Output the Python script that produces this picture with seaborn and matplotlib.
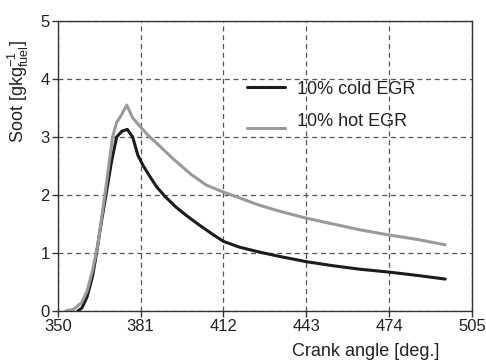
import matplotlib
matplotlib.use("Agg")
import matplotlib.pyplot as plt
import seaborn as sns
import pandas as pd

# Data
cold_angle = [357.5, 359, 361, 363, 364.5, 366, 368, 370, 372, 374, 376, 378, 380, 382, 385, 387,
              390, 394, 398, 403, 408, 412, 418, 425, 433, 443, 453, 463, 474, 485, 495]
cold_soot = [0.0, 0.05, 0.25, 0.6, 1.0, 1.45, 2.0, 2.55, 3.0, 3.1, 3.13, 3.0, 2.68, 2.5, 2.28, 2.14,
             1.98, 1.8, 1.65, 1.48, 1.32, 1.2, 1.1, 1.02, 0.94, 0.85, 0.78, 0.72, 0.67, 0.61, 0.55]
hot_angle = [353, 356, 359, 361, 363, 365, 367.6, 370.5, 372, 373.8, 375.8, 378, 381, 384, 388,
             393, 400, 405.6, 412, 418, 425, 433, 443, 453, 463, 474, 485, 495]
hot_soot = [0.0, 0.03, 0.15, 0.35, 0.7, 1.15, 2.0, 3.0, 3.25, 3.38, 3.55, 3.33, 3.17, 3.02, 2.85,
            2.63, 2.35, 2.17, 2.05, 1.95, 1.83, 1.72, 1.6, 1.5, 1.4, 1.31, 1.23, 1.14]
series_names = ["10% cold EGR", "10% hot EGR"]
x_ticks = [350, 381, 412, 443, 474, 505]
y_ticks = [0, 1, 2, 3, 4, 5]

df = pd.concat([
    pd.DataFrame({"angle": cold_angle, "soot": cold_soot, "case": series_names[0]}),
    pd.DataFrame({"angle": hot_angle, "soot": hot_soot, "case": series_names[1]}),
])

sns.set_style("ticks")
plt.rcParams["font.family"] = ["Liberation Sans", "DejaVu Sans"]
plt.rcParams["mathtext.fontset"] = "custom"
plt.rcParams["mathtext.rm"] = "Liberation Sans"
plt.rcParams["mathtext.it"] = "Liberation Sans"
plt.rcParams["mathtext.default"] = "regular"

fig = plt.figure(figsize=(4.86, 3.62), dpi=100)
ax = fig.add_axes([0.119, 0.141, 0.852, 0.801])

palette = {series_names[0]: "#1c1c1c", series_names[1]: "#9a9a9a"}
sns.lineplot(data=df, x="angle", y="soot", hue="case", palette=palette,
             linewidth=2.2, estimator=None, sort=False, ax=ax, legend=True)

ax.set_xlim(350, 505)
ax.set_ylim(0, 5)
ax.set_xticks(x_ticks)
ax.set_yticks(y_ticks)
ax.grid(True, linestyle=(0, (4, 3)), color="#555555", linewidth=0.9)
ax.set_axisbelow(True)
for s in ax.spines.values():
    s.set_visible(True)
    s.set_color("#333333")
    s.set_linewidth(1.0)
ax.tick_params(axis="both", labelsize=12, length=4, width=1, color="#333333", pad=2, labelcolor="#222222")

ax.set_xlabel("Crank angle [deg.]", fontsize=13, color="#222222")
ax.xaxis.set_label_coords(0.743, -0.112)
ax.set_ylabel(r"Soot [gkg$_{fuel}^{-1}$]", fontsize=13, color="#222222")
ax.yaxis.set_label_coords(-0.065, 0.757)

leg = ax.legend(frameon=False, loc="upper left", bbox_to_anchor=(0.439, 0.819),
                fontsize=13, handlelength=2.1, labelspacing=0.82, handletextpad=0.7,
                borderpad=0.4, borderaxespad=0)
for t in leg.get_texts():
    t.set_color("#222222")
hl = leg.get_lines()[1]
hl.set_ydata([v - 6 for v in hl.get_ydata()])

fig.savefig("out.png", dpi=100)
